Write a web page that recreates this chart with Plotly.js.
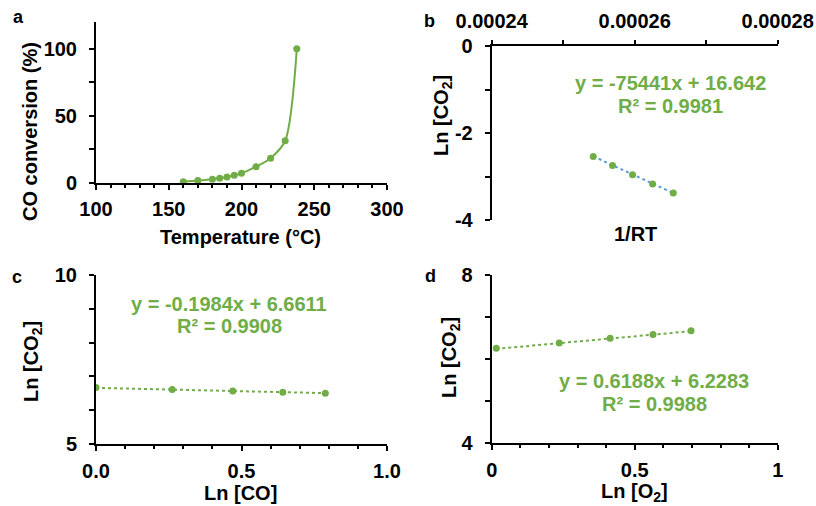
<!DOCTYPE html>
<html>
<head>
<meta charset="utf-8">
<script src="https://cdn.plot.ly/plotly-3.0.1.min.js"></script>
<style>html,body{margin:0;padding:0;background:#fff;}#chart{width:816px;height:506px;}</style>
</head>
<body>
<div id="chart"></div>
<script>
// ---- data ----
const aTemp = [160, 170, 180, 185, 190, 195, 200, 210, 220, 230, 238];
const aConv = [1.0, 1.8, 2.8, 3.6, 4.5, 5.8, 7.3, 12.2, 18.5, 31.5, 100];

const bInvRT = [0.0002542, 0.0002569, 0.0002597, 0.0002625, 0.0002654];
const bLnCO2 = [-2.54, -2.75, -2.96, -3.17, -3.38];

const cLnCO = [0, 0.262, 0.470, 0.642, 0.788];
const cLnCO2 = [6.67, 6.61, 6.57, 6.53, 6.50];

const dLnO2 = [0.016, 0.236, 0.414, 0.564, 0.697];
const dLnCO2 = [6.25, 6.38, 6.49, 6.58, 6.67];

// trendline coefficients (from the chart's equations)
const fitSlopes = [-75441, -0.1984, 0.6188];
const fitIntercepts = [16.642, 6.6611, 6.2283];
const eqLines = ["y = -75441x + 16.642", "y = -0.1984x + 6.6611", "y = 0.6188x + 6.2283"];
const r2Lines = ["R² = 0.9981", "R² = 0.9908", "R² = 0.9988"];

// tick labels
const aXTicks = [100, 150, 200, 250, 300];
const aYTicks = [0, 50, 100];
const bXTicks = [0.00024, 0.00026, 0.00028];
const bXTickText = ["0.00024", "0.00026", "0.00028"];
const bYTicks = [-4, -2, 0];
const bYTickText = ["-4", "-2", "0"];
const cXTicks = [0, 0.5, 1];
const cXTickText = ["0.0", "0.5", "1.0"];
const cYTicks = [5, 10];
const dXTicks = [0, 0.5, 1];
const dXTickText = ["0", "0.5", "1"];
const dYTicks = [4, 8];

// ---- styling ----
const W = 816, H = 506;
const px = v => v / W;
const py = v => 1 - v / H;
const GREEN = '#70AD47';
const BLUE = '#5B9BD5';
const FONT = 'Liberation Sans, Arial, sans-serif';
const tickFont = {family: FONT, size: 20, color: '#000', weight: 'bold'};

function trend(xs, i) {
  const lo = Math.min(...xs), hi = Math.max(...xs);
  return {x: [lo, hi], y: [fitSlopes[i] * lo + fitIntercepts[i], fitSlopes[i] * hi + fitIntercepts[i]]};
}

function axisBase(extra) {
  return Object.assign({
    showgrid: false, zeroline: false, showline: true, linecolor: '#000', linewidth: 2,
    ticks: 'outside', ticklen: 5, tickwidth: 2, tickcolor: '#000',
    tickfont: tickFont, fixedrange: true
  }, extra);
}

const marker = {color: GREEN, size: 7};
const tB = trend(bInvRT, 0), tC = trend(cLnCO, 1), tD = trend(dLnO2, 2);

const traces = [
  {x: aTemp, y: aConv, xaxis: 'x', yaxis: 'y', mode: 'lines+markers', type: 'scatter',
   line: {color: GREEN, width: 2, shape: 'spline', smoothing: 0.8}, marker: marker},
  {x: tB.x, y: tB.y, xaxis: 'x2', yaxis: 'y2', mode: 'lines', type: 'scatter',
   line: {color: BLUE, width: 2, dash: 'dot'}},
  {x: bInvRT, y: bLnCO2, xaxis: 'x2', yaxis: 'y2', mode: 'markers', type: 'scatter', marker: marker},
  {x: tC.x, y: tC.y, xaxis: 'x3', yaxis: 'y3', mode: 'lines', type: 'scatter',
   line: {color: GREEN, width: 2, dash: 'dot'}},
  {x: cLnCO, y: cLnCO2, xaxis: 'x3', yaxis: 'y3', mode: 'markers', type: 'scatter', marker: marker},
  {x: tD.x, y: tD.y, xaxis: 'x4', yaxis: 'y4', mode: 'lines', type: 'scatter',
   line: {color: GREEN, width: 2, dash: 'dot'}},
  {x: dLnO2, y: dLnCO2, xaxis: 'x4', yaxis: 'y4', mode: 'markers', type: 'scatter', marker: marker}
];

const minorX = (dt) => ({dtick: dt, ticks: 'outside', ticklen: 3, tickwidth: 2, tickcolor: '#000', showgrid: false});
const minorY = (dt) => ({dtick: dt, ticks: 'outside', ticklen: 5, tickwidth: 2, tickcolor: '#000', showgrid: false});

function ann(text, x, y, opts) {
  return Object.assign({text: text, x: px(x), y: py(y), xref: 'paper', yref: 'paper',
    showarrow: false, xanchor: 'center', yanchor: 'middle',
    font: {family: FONT, size: 20, color: '#000', weight: 'bold'}}, opts || {});
}

const layout = {
  width: W, height: H, margin: {l: 0, r: 0, t: 0, b: 0},
  paper_bgcolor: '#fff', plot_bgcolor: '#fff', showlegend: false,
  font: {family: FONT},
  xaxis: axisBase({domain: [px(96), px(387)], range: [100, 300], tickmode: 'array', tickvals: aXTicks,
    minor: minorX(10), anchor: 'y', ticklabelstandoff: 2}),
  yaxis: axisBase({domain: [py(183), py(22)], range: [0, 120], tickmode: 'array', tickvals: aYTicks,
    minor: minorY(25), anchor: 'x', ticklabelstandoff: 8}),
  xaxis2: axisBase({domain: [px(491.7), px(777.7)], range: [0.00024, 0.00028], side: 'top',
    tickmode: 'array', tickvals: bXTicks, ticktext: bXTickText, ticklen: 4,
    minor: Object.assign(minorX(0.00001), {ticklen: 4, tick0: 0.00024}), anchor: 'y2', ticklabelstandoff: 4}),
  yaxis2: axisBase({domain: [py(220), py(46)], range: [-4, 0], tickmode: 'array', tickvals: bYTicks,
    ticktext: bYTickText, minor: minorY(1), anchor: 'x2', ticklabelstandoff: 8}),
  xaxis3: axisBase({domain: [px(96), px(387)], range: [0, 1], tickmode: 'array', tickvals: cXTicks,
    ticktext: cXTickText, minor: minorX(0.1), anchor: 'y3', ticklabelstandoff: 3}),
  yaxis3: axisBase({domain: [py(444), py(275)], range: [5, 10], tickmode: 'array', tickvals: cYTicks,
    minor: minorY(1), anchor: 'x3', ticklabelstandoff: 8}),
  xaxis4: axisBase({domain: [px(491.7), px(777.7)], range: [0, 1], tickmode: 'array', tickvals: dXTicks,
    ticktext: dXTickText, minor: minorX(0.1), anchor: 'y4', ticklabelstandoff: 3}),
  yaxis4: axisBase({domain: [py(442.7), py(275)], range: [4, 8], tickmode: 'array', tickvals: dYTicks,
    minor: minorY(1), anchor: 'x4', ticklabelstandoff: 8}),
  annotations: [
    // panel letters
    ann('a', 18, 17, {font: {family: FONT, size: 18, color: '#000', weight: 'bold'}}),
    ann('b', 429, 21, {font: {family: FONT, size: 18, color: '#000', weight: 'bold'}}),
    ann('c', 17, 277, {font: {family: FONT, size: 18, color: '#000', weight: 'bold'}}),
    ann('d', 430, 276, {font: {family: FONT, size: 18, color: '#000', weight: 'bold'}}),
    // axis titles
    ann('CO conversion (%)', 30, 132, {textangle: -90}),
    ann('Temperature (°C)', 240, 237),
    ann('Ln [CO<sub>2</sub>]', 442, 115, {textangle: -90}),
    ann('1/RT', 635, 234),
    ann('Ln [CO<sub>2</sub>]', 32, 362, {textangle: -90}),
    ann('Ln [CO]', 240, 493),
    ann('Ln [CO<sub>2</sub>]', 450, 358, {textangle: -90}),
    ann('Ln [O<sub>2</sub>]', 634, 492),
    // equations
    ann(eqLines[0], 670, 83, {font: {family: FONT, size: 20, color: GREEN, weight: 'bold'}}),
    ann(r2Lines[0], 670, 106, {font: {family: FONT, size: 20, color: GREEN, weight: 'bold'}}),
    ann(eqLines[1], 229, 304, {font: {family: FONT, size: 20, color: GREEN, weight: 'bold'}}),
    ann(r2Lines[1], 229, 326, {font: {family: FONT, size: 20, color: GREEN, weight: 'bold'}}),
    ann(eqLines[2], 654, 381, {font: {family: FONT, size: 20, color: GREEN, weight: 'bold'}}),
    ann(r2Lines[2], 654, 404, {font: {family: FONT, size: 20, color: GREEN, weight: 'bold'}})
  ]
};

Plotly.newPlot('chart', traces, layout, {staticPlot: true, displayModeBar: false});
</script>
</body>
</html>
